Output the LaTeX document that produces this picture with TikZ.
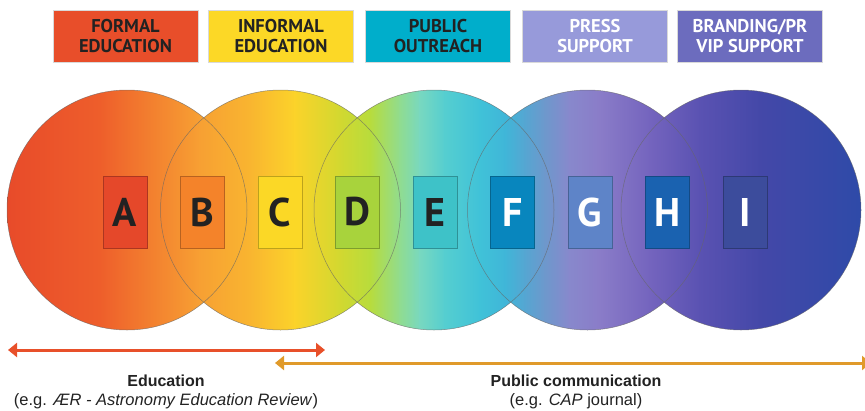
\documentclass[tikz,border=0pt]{standalone}
\usepackage{fontspec}
\setmainfont{Liberation Sans}
\newfontfamily\ptsans{PT Sans}
\usetikzlibrary{arrows.meta}

% colours of the tabs
\definecolor{tabred}{HTML}{E84E2A}
\definecolor{tabyellow}{HTML}{FCD826}
\definecolor{tabcyan}{HTML}{00AECB}
\definecolor{tablilac}{HTML}{979ADA}
\definecolor{tabviolet}{HTML}{6C6CBE}
\definecolor{ink}{HTML}{222222}
% colours along the circles
\definecolor{s0}{HTML}{E84B2A}
\definecolor{s1}{HTML}{EE5E2B}
\definecolor{s2}{HTML}{F7A033}
\definecolor{s3}{HTML}{F9B530}
\definecolor{s4}{HTML}{FBD32A}
\definecolor{s5}{HTML}{D2D830}
\definecolor{s6}{HTML}{B8DC3C}
\definecolor{s7}{HTML}{90DC90}
\definecolor{s8}{HTML}{78D8C0}
\definecolor{s9}{HTML}{55CED0}
\definecolor{s10}{HTML}{40C2D8}
\definecolor{s11}{HTML}{40B6D8}
\definecolor{s12}{HTML}{55A6D2}
\definecolor{s13}{HTML}{6E98CC}
\definecolor{s14}{HTML}{8888CC}
\definecolor{s15}{HTML}{8A7CC8}
\definecolor{s16}{HTML}{7464BE}
\definecolor{s17}{HTML}{5A52B2}
\definecolor{s18}{HTML}{4448A8}
\definecolor{s19}{HTML}{2E4AA8}
% colours of the letter boxes
\definecolor{bA}{HTML}{E5482A}
\definecolor{bB}{HTML}{F4832A}
\definecolor{bC}{HTML}{FBD826}
\definecolor{bD}{HTML}{A8D33C}
\definecolor{bE}{HTML}{3EC2C8}
\definecolor{bF}{HTML}{0886BE}
\definecolor{bG}{HTML}{5E84C8}
\definecolor{bH}{HTML}{1A62B0}
\definecolor{bI}{HTML}{3C4C9C}
\definecolor{arrred}{HTML}{E8502A}
\definecolor{arrorange}{HTML}{E09A2A}

\begin{document}
\begin{tikzpicture}[x=1pt,y=-1pt,
    tab/.style={minimum width=145pt,minimum height=52pt,inner sep=0pt,align=center,
      draw=black!15,line width=0.6pt,font=\ptsans\bfseries\fontsize{18.5}{19.5}\selectfont},
    letterbox/.style={minimum width=44pt,minimum height=72pt,inner sep=0pt,
      line width=0.6pt,font=\ptsans\bfseries\fontsize{40}{40}\selectfont},
    ring/.style={draw=black!60,line width=0.5pt,draw opacity=0.7},
    span/.style={line width=3pt,{Triangle[length=9pt,width=14pt]}-{Triangle[length=9pt,width=14pt]}},
    caption/.style={font=\fontsize{16.5}{18}\selectfont,text=ink},
    headline/.style={font=\bfseries\fontsize{16}{18}\selectfont,text=ink}]
    \useasboundingbox (0,0) rectangle (865,410);
    % tabs
    \node[tab,fill=tabred,text=ink] (formal) at (125.5,36) {FORMAL\\EDUCATION};
    \node[tab,fill=tabyellow,text=ink] (informal) at (281,36) {INFORMAL\\EDUCATION};
    \node[tab,fill=tabcyan,text=ink] (outreach) at (438,36) {PUBLIC\\OUTREACH};
    \node[tab,fill=tablilac,text=white] (press) at (595,36) {PRESS\\SUPPORT};
    \node[tab,fill=tabviolet,text=white] (branding) at (750,36) {BRANDING/PR\\VIP SUPPORT};
    % circles filled with the spectrum
    \begin{scope}
        \clip (127,210) circle[radius=120] (280.5,210) circle[radius=120]
              (434,210) circle[radius=120] (587.5,210) circle[radius=120]
              (741,210) circle[radius=120];
        \foreach \xa/\ca/\xb/\cb in {8/s0/100/s1, 100/s1/200/s2, 200/s2/250/s3,
                250/s3/295/s4, 295/s4/340/s5, 340/s5/370/s6, 370/s6/400/s7,
                400/s7/420/s8, 420/s8/445/s9, 445/s9/480/s10, 480/s10/505/s11,
                505/s11/525/s12, 525/s12/545/s13, 545/s13/570/s14, 570/s14/600/s15,
                600/s15/650/s16, 650/s16/700/s17, 700/s17/760/s18, 760/s18/862/s19}
            \shade[left color=\ca,right color=\cb] (\xa-0.4,88) rectangle (\xb+0.4,332);
    \end{scope}
    \foreach \cx in {127,280.5,434,587.5,741}
        \draw[ring] (\cx,210) circle[radius=120];
    % letter boxes
    \foreach \l/\tc [count=\k from 0] in {A/ink,B/ink,C/ink,D/ink,E/ink,F/white,G/white,H/white,I/white}
        \node[letterbox,fill=b\l,draw=b\l!75!black,text=\tc] (\l) at (125+77.5*\k,212) {\l};
    % spans
    \coordinate (edul) at (8,350);
    \coordinate (edur) at (325,350);
    \coordinate (publ) at (275,363);
    \coordinate (pubr) at (871,363);
    \draw[span,arrred] (edul) -- (edur);
    \draw[span,arrorange] (publ) -- (pubr);
    % labels
    \node[headline] (edu) at (166,381) {Education};
    \node[caption] (edunote) at (166,401)
        {(e.g. \textit{ÆR - Astronomy Education Review})};
    \node[headline] (pub) at (576,381) {Public communication};
    \node[caption] (pubnote) at (576,401) {(e.g. \textit{CAP} journal)};
\end{tikzpicture}
\end{document}
